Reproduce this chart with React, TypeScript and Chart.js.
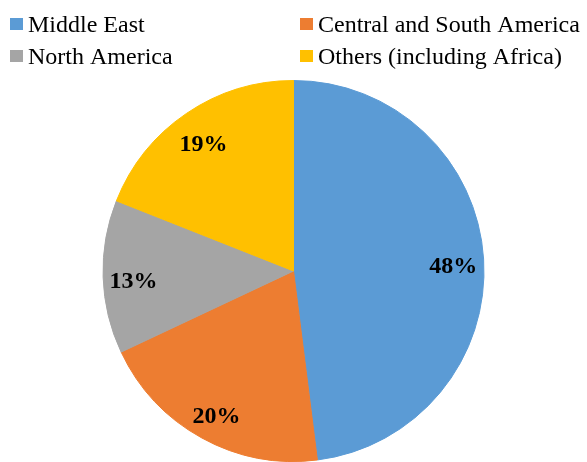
import React, { useEffect, useRef } from "react";
import { Chart, registerables } from "chart.js";

Chart.register(...registerables);

const categories = ["Middle East", "Central and South America", "North America", "Others (including Africa)"];
const shares = [48, 20, 13, 19];
const sliceColors = ["#5B9BD5", "#ED7D31", "#A5A5A5", "#FFC000"];

const SERIF = "'Liberation Serif', 'Times New Roman', serif";

const legendPlugin = {
  id: "gridLegend",
  afterDraw(chart: any) {
    const ctx = chart.ctx;
    const labels: string[] = chart.data.labels;
    const colors: string[] = chart.data.datasets[0].backgroundColor;
    const colX = [10, 300];
    const rowBase = [32, 64];
    ctx.save();
    ctx.font = `24px ${SERIF}`;
    ctx.textBaseline = "alphabetic";
    ctx.textAlign = "left";
    labels.forEach((lab, i) => {
      const col = i === 0 || i === 2 ? 0 : 1;
      const row = i < 2 ? 0 : 1;
      const x = colX[col];
      const yb = rowBase[row];
      ctx.fillStyle = colors[i];
      ctx.fillRect(x, yb - 14, 13, 12);
      ctx.fillStyle = "#000";
      ctx.fillText(lab, x + 18, yb);
    });
    ctx.restore();
  },
};

const labelPlugin = {
  id: "sliceLabels",
  afterDatasetsDraw(chart: any) {
    const ctx = chart.ctx;
    const meta = chart.getDatasetMeta(0);
    const data: number[] = chart.data.datasets[0].data;
    ctx.save();
    ctx.font = `bold 24px ${SERIF}`;
    ctx.fillStyle = "#000";
    ctx.textAlign = "center";
    ctx.textBaseline = "middle";
    meta.data.forEach((arc: any, i: number) => {
      const p = arc.getProps(["x", "y", "startAngle", "endAngle", "outerRadius"], true);
      const mid = (p.startAngle + p.endAngle) / 2;
      const r = p.outerRadius * 0.84;
      ctx.fillText(`${data[i]}%`, p.x + Math.cos(mid) * r, p.y + Math.sin(mid) * r + 6);
    });
    ctx.restore();
  },
};

export default function App() {
  const ref = useRef<HTMLCanvasElement>(null);
  useEffect(() => {
    if (!ref.current) return;
    const chart = new Chart(ref.current, {
      type: "pie",
      data: {
        labels: categories,
        datasets: [
          {
            data: shares,
            backgroundColor: sliceColors,
            borderColor: sliceColors,
            borderWidth: 1,
          },
        ],
      },
      options: {
        animation: false,
        responsive: false,
        maintainAspectRatio: false,
        layout: { padding: { top: 80, bottom: 0, left: 0, right: 0 } },
        plugins: {
          legend: { display: false },
          tooltip: { enabled: false },
        },
      },
      plugins: [legendPlugin, labelPlugin],
    });
    return () => chart.destroy();
  }, []);
  return (
    <div style={{ position: "fixed", left: 0, top: 0, width: 587, height: 462, background: "#fff" }}>
      <canvas ref={ref} width={587} height={462} style={{ display: "block" }} />
    </div>
  );
}
